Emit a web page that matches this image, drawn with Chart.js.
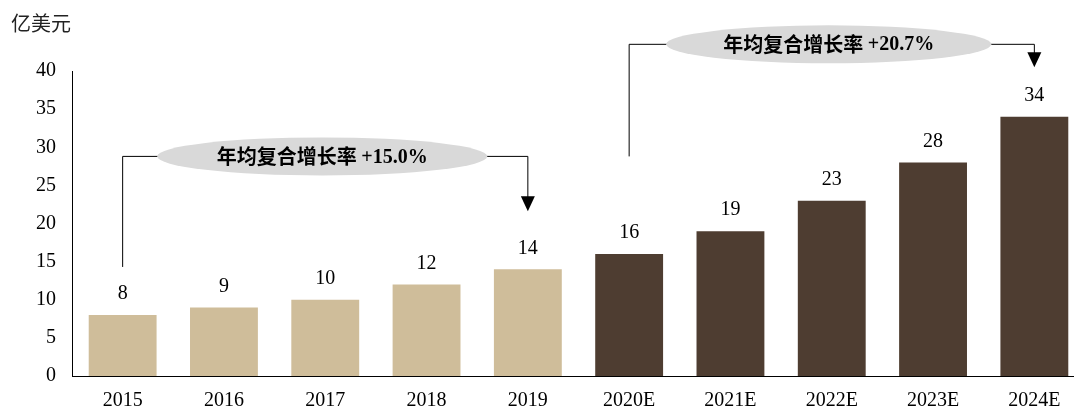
<!DOCTYPE html>
<html>
<head>
<meta charset="utf-8">
<script src="https://cdn.jsdelivr.net/npm/chart.js@4/dist/chart.umd.min.js"></script>
<style>
  html, body { margin: 0; padding: 0; background: #fff; overflow: hidden; }
  #wrap { width: 1090px; height: 426px; }
</style>
</head>
<body>
<div id="wrap"><canvas id="marketChart"></canvas></div>
<script>
var years = ["2015", "2016", "2017", "2018", "2019", "2020E", "2021E", "2022E", "2023E", "2024E"];
var values = [8, 9, 10, 12, 14, 16, 19, 23, 28, 34];
var forecast = [false, false, false, false, false, true, true, true, true, true];
var yTicks = [0, 5, 10, 15, 20, 25, 30, 35, 40];
var unitLabel = "亿美元";
var cagrLabels = ["年均复合增长率 +15.0%", "年均复合增长率 +20.7%"];

var serif = "'Liberation Serif', 'Times New Roman', serif";
var cjk = "'Noto Sans CJK SC', 'Liberation Serif', serif";

var barColors = forecast.map(function (f) { return f ? "#4E3D31" : "#CFBD9A"; });

// value labels, unit and the two CAGR brackets
var annotate = {
  id: "annotate",
  afterDatasetsDraw: function (chart) {
    var ctx = chart.ctx;
    var x = chart.scales.x, y = chart.scales.y;
    var meta = chart.getDatasetMeta(0);

    ctx.save();
    ctx.fillStyle = "#000";
    ctx.font = "20px " + serif;
    ctx.textAlign = "center";
    ctx.textBaseline = "bottom";
    meta.data.forEach(function (bar, i) {
      ctx.fillText(values[i], bar.x, bar.y - 11);
    });

    ctx.textAlign = "left";
    ctx.textBaseline = "middle";
    ctx.font = "20px " + cjk;
    ctx.fillStyle = "#222";
    ctx.fillText(unitLabel, 11, 23);

    function bracket(i0, i1, yStart, yLine, yTip, label, ellW) {
      var x0 = x.getPixelForValue(i0), x1 = x.getPixelForValue(i1);
      var ys = y.getPixelForValue(yStart), yl = y.getPixelForValue(yLine), yt = y.getPixelForValue(yTip);
      ctx.strokeStyle = "#000";
      ctx.lineWidth = 1;
      ctx.beginPath();
      ctx.moveTo(x0, ys);
      ctx.lineTo(x0, yl);
      ctx.lineTo(x1, yl);
      ctx.lineTo(x1, yt - 14);
      ctx.stroke();
      ctx.fillStyle = "#000";
      ctx.beginPath();
      ctx.moveTo(x1 - 7, yt - 15);
      ctx.lineTo(x1 + 7, yt - 15);
      ctx.lineTo(x1, yt);
      ctx.closePath();
      ctx.fill();

      var cx = (x0 + x1) / 2 - 3;
      ctx.fillStyle = "#D9D9D9";
      ctx.beginPath();
      ctx.ellipse(cx, yl, ellW / 2, 19, 0, 0, Math.PI * 2);
      ctx.fill();
      ctx.fillStyle = "#000";
      var parts = label.split(" ");
      ctx.font = "bold 20px " + cjk;
      var w1 = ctx.measureText(parts[0] + " ").width;
      ctx.font = "bold 20px " + serif;
      var w2 = ctx.measureText(parts[1]).width;
      var sx = cx - (w1 + w2) / 2;
      ctx.textAlign = "left";
      ctx.textBaseline = "middle";
      ctx.font = "bold 20px " + cjk;
      ctx.fillText(parts[0] + " ", sx, yl);
      ctx.font = "bold 20px " + serif;
      ctx.fillText(parts[1], sx + w1, yl + 1);
    }

    bracket(0, 4, 14.3, 28.8, 21.6, cagrLabels[0], 330);
    bracket(5, 9, 28.8, 43.5, 40.5, cagrLabels[1], 325);
    ctx.restore();
  }
};

new Chart(document.getElementById("marketChart"), {
  type: "bar",
  data: {
    labels: years,
    datasets: [{
      data: values,
      backgroundColor: barColors,
      barPercentage: 0.67,
      categoryPercentage: 1.0
    }]
  },
  options: {
    responsive: true,
    maintainAspectRatio: false,
    animation: false,
    layout: { padding: { top: 71, left: 20, right: 5, bottom: 0 } },
    plugins: {
      legend: { display: false },
      tooltip: { enabled: false }
    },
    scales: {
      x: {
        grid: { display: false, drawTicks: false },
        border: { color: "#000", width: 1 },
        ticks: { color: "#000", font: { family: serif, size: 20 }, padding: 13 }
      },
      y: {
        min: 0,
        max: 40,
        afterBuildTicks: function (axis) {
          axis.ticks = yTicks.map(function (v) { return { value: v }; });
        },
        grid: { display: false, drawTicks: false },
        border: { color: "#000", width: 1 },
        ticks: { color: "#000", font: { family: serif, size: 20 }, padding: 16 }
      }
    }
  },
  plugins: [annotate]
});
</script>
</body>
</html>
